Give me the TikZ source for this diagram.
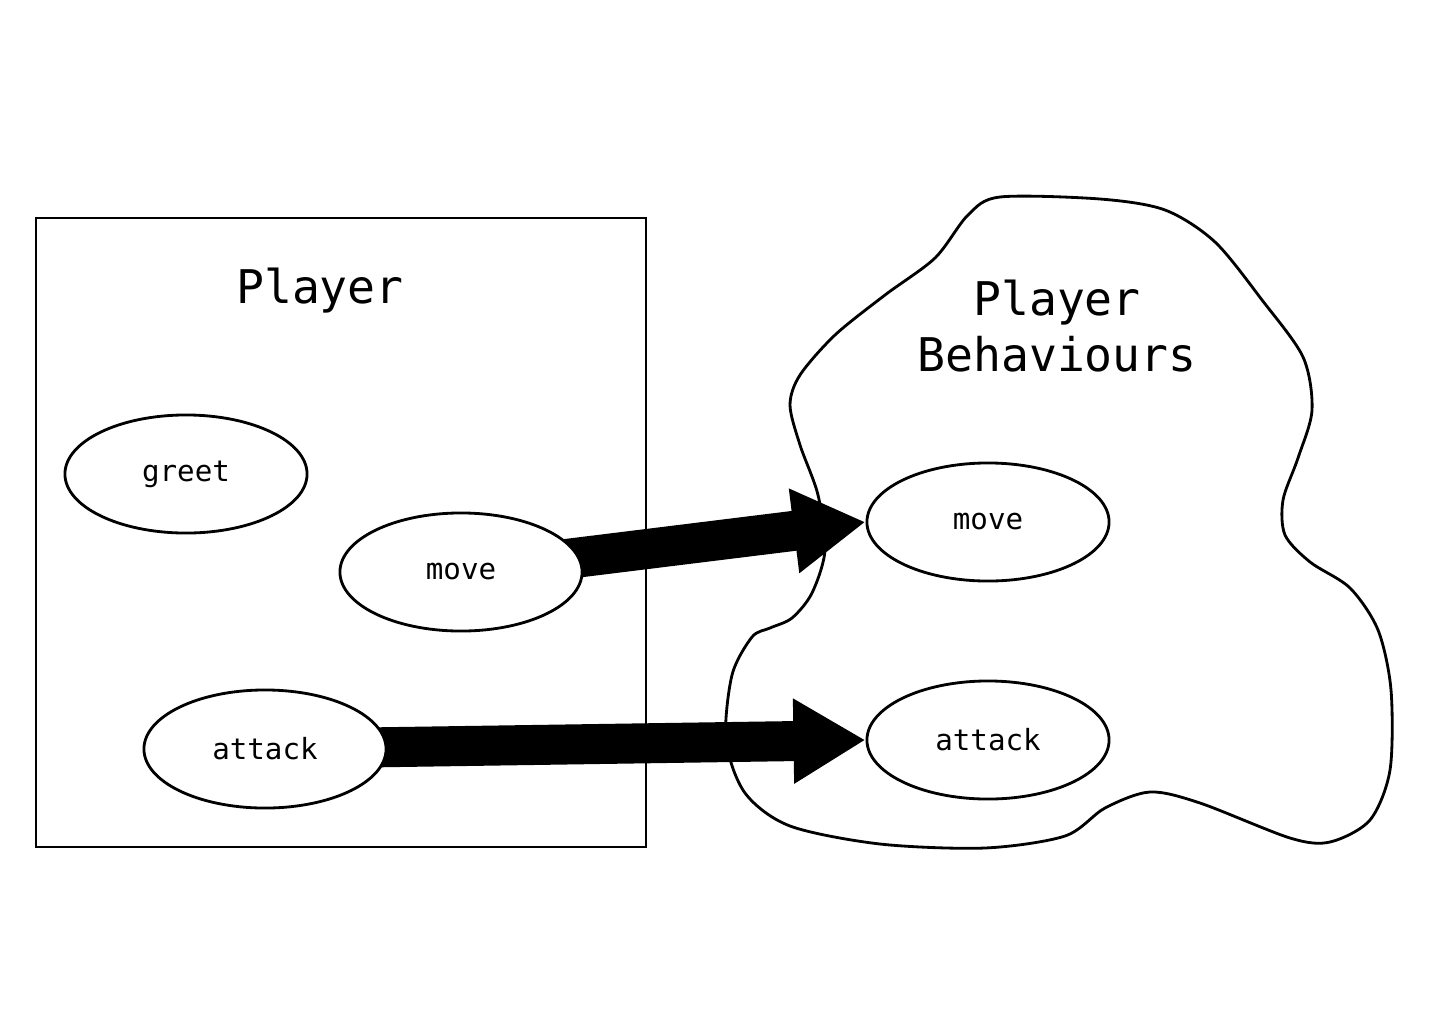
\documentclass[tikz,border=0pt]{standalone}
\usepackage{fontspec}
\setmonofont{DejaVu Sans Mono}
\usetikzlibrary{shapes.geometric, arrows.meta, backgrounds}

\begin{document}
\begin{tikzpicture}[x=0.01cm, y=-0.01cm,
    borde/.style={line width=0.8pt},
    accion/.style={draw, ellipse, borde, fill=white, minimum width=2.42cm, minimum height=1.18cm, inner sep=0pt, font=\ttfamily\fontsize{8.3}{10}\selectfont},
    titulo/.style={font=\ttfamily\fontsize{13.2}{15.9}\selectfont, align=center},
    flecha/.style={line width=0.4cm, -{Triangle[length=0.72cm, width=0.8cm]}}]
    \useasboundingbox (0,0) rectangle (1440,1024);
    % Caja del jugador
    \draw[borde] (36,218) rectangle (646,847);
    \node[titulo] (tplayer) at (320,291) {Player};
    % Nube de comportamientos
    \draw[borde] plot[smooth cycle, tension=0.5] coordinates {
        (1000,197) (1100,199) (1165,210) (1215,242) (1262,300) (1303,357)
        (1312,410) (1298,458) (1283,500) (1285,535) (1310,562) (1350,588)
        (1378,630) (1391,690) (1390,770) (1370,820) (1330,842) (1290,838)
        (1200,803) (1150,792) (1105,808) (1065,836) (985,848) (880,844)
        (790,826) (745,793) (726,740) (732,675) (752,637) (770,628)
        (792,618) (812,593) (825,550) (818,495) (800,445) (790,405)
        (800,375) (835,335) (885,295) (935,258) (968,215)};
    \node[titulo] (tbehav) at (1057,326) {Player\\Behaviours};
    % Acciones
    \node[accion] (greet) at (186,474) {greet};
    \node[accion] (mvL) at (461,572) {move};
    \node[accion] (atL) at (265,749) {attack};
    \node[accion] (mvR) at (988,522) {move};
    \node[accion] (atR) at (988,740) {attack};
    % Flechas
    \begin{pgfonlayer}{background}
        \draw[flecha] (mvL.center) -- (mvR.west);
        \draw[flecha] (atL.center) -- (atR.west);
    \end{pgfonlayer}
\end{tikzpicture}
\end{document}
